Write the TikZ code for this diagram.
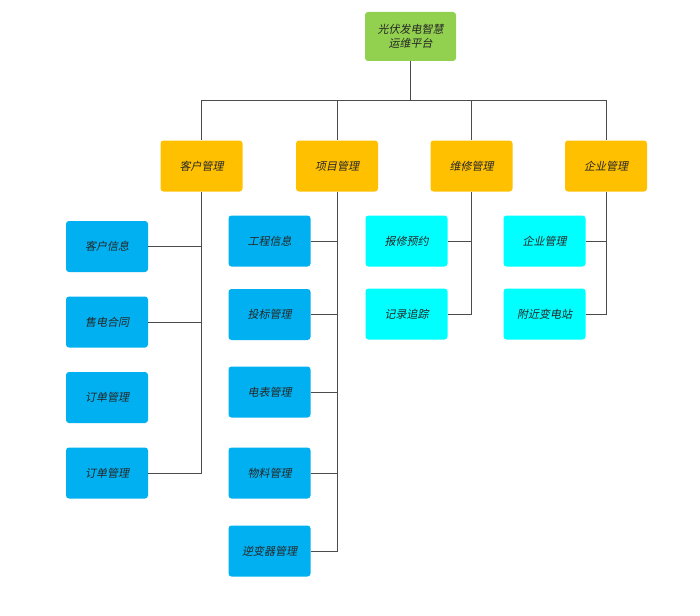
\documentclass[tikz,border=0pt]{standalone}
\usepackage{fontspec}
\usepackage{xcolor}
\usepackage{tikz}
\newfontfamily\cjk[FakeSlant=0.2]{Noto Sans CJK SC}
\definecolor{rootgreen}{HTML}{92D050}
\definecolor{mgrorange}{HTML}{FFC000}
\definecolor{itemblue}{HTML}{00B0F0}
\definecolor{itemcyan}{HTML}{00FFFF}

\tikzset{
  box/.style={rounded corners=3pt, inner sep=0pt, align=center,
    minimum width=82pt, minimum height=51pt, font=\cjk\fontsize{11}{14}\selectfont, text=black!85},
  link/.style={draw=black!70, line width=0.8pt}
}

\begin{document}
\begin{tikzpicture}[x=1pt,y=-1pt]
\useasboundingbox (0,0) rectangle (700,615);

% Root
\node[box,fill=rootgreen,minimum width=91pt,minimum height=49pt] (root) at (410.5,36.5) {光伏发电智慧\\运维平台};

% Managers
\node[box,fill=mgrorange] (kehu) at (201.5,166) {客户管理};
\node[box,fill=mgrorange] (xiangmu) at (337,166) {项目管理};
\node[box,fill=mgrorange] (weixiu) at (471.5,166) {维修管理};
\node[box,fill=mgrorange] (qiye) at (606,166) {企业管理};

% Client items
\node[box,fill=itemblue] (khxx) at (107,246.5) {客户信息};
\node[box,fill=itemblue] (sdht) at (107,322) {售电合同};
\node[box,fill=itemblue] (ddgl) at (107,397.5) {订单管理};
\node[box,fill=itemblue] (ddgltwo) at (107,473) {订单管理};

% Project items
\node[box,fill=itemblue] (gcxx) at (269.5,241) {工程信息};
\node[box,fill=itemblue] (tbgl) at (269.5,314.5) {投标管理};
\node[box,fill=itemblue] (dbgl) at (269.5,392) {电表管理};
\node[box,fill=itemblue] (wlgl) at (269.5,473) {物料管理};
\node[box,fill=itemblue] (nbq) at (269.5,551) {逆变器管理};

% Repair items
\node[box,fill=itemcyan] (bxyy) at (406.5,241) {报修预约};
\node[box,fill=itemcyan] (jlzz) at (406.5,314) {记录追踪};

% Enterprise items
\node[box,fill=itemcyan] (qygl) at (544.5,241) {企业管理};
\node[box,fill=itemcyan] (fjbd) at (544.5,314) {附近变电站};

% Tree lines
\coordinate (bus) at (410.5,100);
\draw[link] (root) -- (bus);
\foreach \m in {kehu,xiangmu,weixiu,qiye}
  \draw[link] (bus) -| (\m.north);
\foreach \c in {khxx,sdht,ddgltwo}
  \draw[link] (\c.east) -| (kehu.south);
\foreach \c in {gcxx,tbgl,dbgl,wlgl,nbq}
  \draw[link] (\c.east) -| (xiangmu.south);
\foreach \c in {bxyy,jlzz}
  \draw[link] (\c.east) -| (weixiu.south);
\foreach \c in {qygl,fjbd}
  \draw[link] (\c.east) -| (qiye.south);
\end{tikzpicture}
\end{document}
